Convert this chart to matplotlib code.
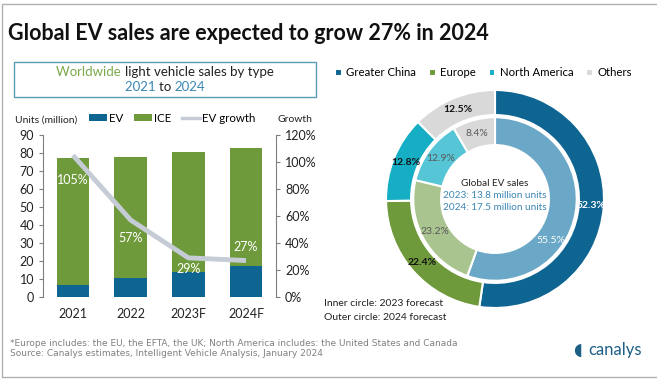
import numpy as np
import matplotlib.pyplot as plt
from matplotlib.patches import Rectangle
from matplotlib.lines import Line2D

W, H = 657, 382
plt.rcParams['font.family'] = ['Lato', 'DejaVu Sans']

years = ['2021', '2022', '2023F', '2024F']
ev = [6.6, 10.5, 13.8, 17.5]
ice = [70.6, 67.1, 66.6, 65.3]
growth = [105, 57, 29, 27]
growth_lbl = ['105%', '57%', '29%', '27%']

regions = ['Greater China', 'Europe', 'North America', 'Others']
share_2024 = [52.3, 22.4, 12.8, 12.5]
share_2023 = [55.5, 23.2, 12.9, 8.4]

c_ev, c_ice, c_line = '#0e6592', '#6f9a3b', '#c5ccd6'
outer_cols = ['#0e6592', '#6f9a3b', '#16aec4', '#d9d9d9']
inner_cols = ['#6ba7c6', '#a9c48f', '#56c6d6', '#d9d9d9']
blue_txt = '#3a86b5'


def fx(x):
    return x / W


def fy(y):
    return 1 - y / H


fig = plt.figure(figsize=(W / 100, H / 100), dpi=100)

# frame
fig.add_artist(Rectangle((fx(1.5), fy(377)), fx(700), (377 - 4) / H, transform=fig.transFigure,
                         fill=False, ec='#b0b0b0', lw=1))

fig.text(fx(8), fy(33), 'Global EV sales are expected to grow 27% in 2024', fontsize=15.5,
         fontweight='bold', color='#111111', va='center', ha='left')

# subtitle box
fig.add_artist(Rectangle((fx(14), fy(97)), fx(302), 35 / H, transform=fig.transFigure,
                         fill=False, ec='#5a9ab5', lw=1))
r = fig.canvas.get_renderer()


def multi(xc, y, parts, size):
    ts = [fig.text(0, fy(y), s, color=c, fontsize=size, va='center', ha='left') for s, c in parts]
    ws = [t.get_window_extent(r).width for t in ts]
    x = xc - sum(ws) / 2
    for t, w in zip(ts, ws):
        t.set_x(fx(x))
        x += w


multi(165, 72, [('Worldwide ', '#7aa84a'), ('light vehicle sales by type', '#222222')], 9.5)
multi(165, 87, [('2021 ', blue_txt), ('to ', '#222222'), ('2024', blue_txt)], 9.5)

# bar chart
ax = fig.add_axes([fx(43), fy(297), (276 - 43) / W, 162 / H])
x = np.arange(len(years))
b1 = ax.bar(x, ev, 0.57, color=c_ev)
b2 = ax.bar(x, ice, 0.57, bottom=ev, color=c_ice)
ax.set_xlim(-0.52, 3.52)
ax.set_ylim(0, 90)
ax.set_yticks(range(0, 91, 10))
ax.set_xticks(x, years)
for s in ['top', 'right', 'bottom']:
    ax.spines[s].set_visible(False)
ax.spines['left'].set_color('#7f7f7f')
ax.tick_params(axis='y', colors='#7f7f7f', labelcolor='#222222', labelsize=9, length=3)
ax.tick_params(axis='x', length=0, labelsize=9, labelcolor='#222222', pad=8)

ax2 = ax.twinx()
ax2.plot(x, growth, color=c_line, lw=3.5, solid_capstyle='butt')
ax2.set_ylim(0, 120)
ax2.set_yticks(range(0, 121, 20), [f'{v}%' for v in range(0, 121, 20)])
for s in ['top', 'left', 'bottom']:
    ax2.spines[s].set_visible(False)
ax2.spines['right'].set_color('#7f7f7f')
ax2.tick_params(axis='y', colors='#7f7f7f', labelcolor='#222222', labelsize=9, length=3)
offs = [-18, -13, -8, 10]
for xi, g, lbl, o in zip(x, growth, growth_lbl, offs):
    ax2.annotate(lbl, (xi, g), xytext=(0, o), textcoords='offset points', ha='center',
                 va='center', color='white', fontsize=9)

fig.text(fx(15), fy(120), 'Units (million)', fontsize=7.5, color='#222222', va='center')
fig.text(fx(277), fy(120), 'Growth', fontsize=7.5, color='#222222', va='center')
fig.legend([b1, b2, Line2D([], [], color=c_line, lw=2.5)], ['EV', 'ICE', 'EV growth'],
           loc='center left', bbox_to_anchor=(fx(89), fy(118)), ncol=3, frameon=False,
           fontsize=8.3, handlelength=1.6, handleheight=0.6, handletextpad=0.15,
           columnspacing=0.9, borderpad=0, borderaxespad=0)

# donut
R = 109
cx, cy = 495, 199
axd = fig.add_axes([fx(cx - 1.1 * R), fy(cy + 1.1 * R), 2.2 * R / W, 2.2 * R / H])
wo, _, to = axd.pie(share_2024, radius=1, colors=outer_cols, startangle=90, counterclock=False,
                    autopct='%.1f%%', pctdistance=0.885,
                    wedgeprops=dict(width=0.23, edgecolor='white', linewidth=1.5),
                    textprops=dict(fontsize=7.5, fontweight='bold', color='#111111'))
to[0].set_color('white')
wi, _, ti = axd.pie(share_2023, radius=0.75, colors=inner_cols, startangle=90, counterclock=False,
                    autopct='%.1f%%', pctdistance=0.83,
                    wedgeprops=dict(width=0.255, edgecolor='white', linewidth=1.5),
                    textprops=dict(fontsize=7.5, color='#595959'))
ti[0].set_color('white')
a = np.deg2rad(-37)
ti[0].set_position((0.64 * np.cos(a), 0.64 * np.sin(a)))
axd.set_xlim(-1.1, 1.1)
axd.set_ylim(-1.1, 1.1)

fig.text(fx(cx), fy(183), 'Global EV sales', fontsize=7.2, color='#222222', ha='center', va='center')
fig.text(fx(cx), fy(195), '2023: 13.8 million units', fontsize=7.2, color=blue_txt, ha='center', va='center')
fig.text(fx(cx), fy(207), '2024: 17.5 million units', fontsize=7.2, color=blue_txt, ha='center', va='center')

fig.legend(wo, regions, loc='center left', bbox_to_anchor=(fx(335), fy(73)), ncol=4, frameon=False,
           fontsize=8.2, handlelength=0.6, handleheight=0.6, handletextpad=0.4,
           columnspacing=1.1, borderpad=0, borderaxespad=0)

fig.text(fx(324), fy(303), 'Inner circle: 2023 forecast', fontsize=7.5, color='#222222', va='center')
fig.text(fx(324), fy(318), 'Outer circle: 2024 forecast', fontsize=7.5, color='#222222', va='center')

foot = ['Liberation Sans Narrow', 'DejaVu Sans']
fig.text(fx(10), fy(344), '*Europe includes: the EU, the EFTA, the UK; North America includes: the United States and Canada',
         fontsize=6.5, color='#808080', va='center', family=foot)
fig.text(fx(10), fy(354), 'Source: Canalys estimates, Intelligent Vehicle Analysis, January 2024',
         fontsize=6.5, color='#808080', va='center', family=foot)

fig.text(fx(588), fy(350), 'canalys', fontsize=12, color='#1d5f85', va='center', ha='left')
fig.text(fx(577), fy(350), '\u25D6', fontsize=12, color='#1d5f85', va='center', ha='center')

fig.savefig('out.png', dpi=100)
